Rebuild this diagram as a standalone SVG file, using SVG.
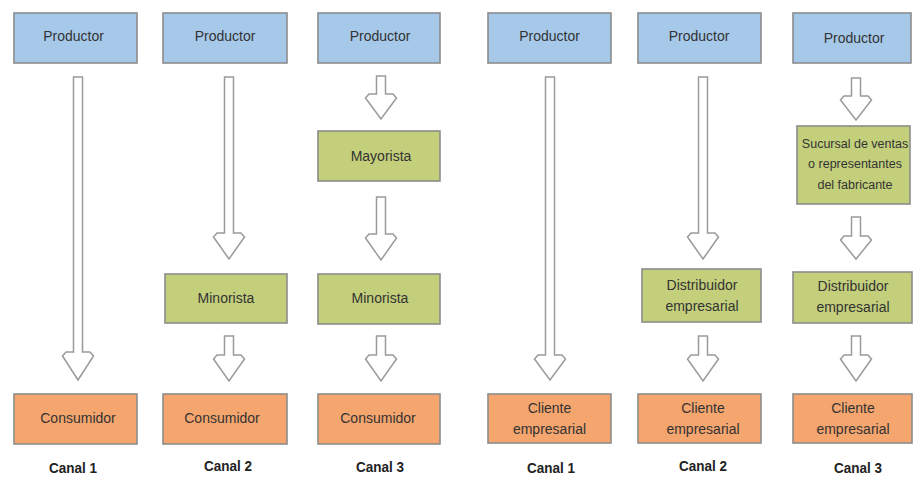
<svg xmlns="http://www.w3.org/2000/svg" width="914" height="477" viewBox="0 0 914 477">
<style>
.box{stroke:#8c8c8c;stroke-width:1.6}
.b{fill:#a6c9ea}
.g{fill:#c3cf7b}
.o{fill:#f5a56e}
.t{font-family:"Liberation Sans",Arial,sans-serif;font-size:14px;fill:#333333;text-anchor:middle}
.s{font-size:12.5px}
.c{font-family:"Liberation Sans",Arial,sans-serif;font-size:15px;font-weight:bold;fill:#222222;text-anchor:middle}
.a{fill:#ffffff;stroke:#9a9a9a;stroke-width:1.5;stroke-linejoin:miter}
</style>
<rect width="914" height="477" fill="#ffffff"/>
<g id="connectors">
<path class="a" d="M73.5 77 H82.5 V352 H90 L93.5 356 L78 380 L62.5 356 L66 352 H73.5 Z"/>
<path class="a" d="M224.5 77 H233.5 V233 H241 L244.5 237 L229 259 L213.5 237 L217 233 H224.5 Z"/>
<path class="a" d="M224.5 336 H233.5 V355 H241 L244.5 359 L229 381 L213.5 359 L217 355 H224.5 Z"/>
<path class="a" d="M376.5 76 H385.5 V94 H393 L396.5 98 L381 119 L365.5 98 L369 94 H376.5 Z"/>
<path class="a" d="M376.5 197 H385.5 V234 H393 L396.5 238 L381 260 L365.5 238 L369 234 H376.5 Z"/>
<path class="a" d="M376.5 336 H385.5 V355 H393 L396.5 359 L381 381 L365.5 359 L369 355 H376.5 Z"/>
<path class="a" d="M545.5 77 H554.5 V355 H562 L565.5 359 L550 380 L534.5 359 L538 355 H545.5 Z"/>
<path class="a" d="M698.5 77 H707.5 V233 H715 L718.5 237 L703 259 L687.5 237 L691 233 H698.5 Z"/>
<path class="a" d="M698.5 336 H707.5 V355 H715 L718.5 359 L703 381 L687.5 359 L691 355 H698.5 Z"/>
<path class="a" d="M851.5 78 H860.5 V96 H868 L871.5 100 L856 120 L840.5 100 L844 96 H851.5 Z"/>
<path class="a" d="M851.5 217 H860.5 V236 H868 L871.5 240 L856 259 L840.5 240 L844 236 H851.5 Z"/>
<path class="a" d="M851.5 336 H860.5 V355 H868 L871.5 359 L856 381 L840.5 359 L844 355 H851.5 Z"/>
</g>
<g id="c1-productor"><rect class="box b" x="14" y="13" width="123" height="50"/><text class="t" x="73.5" y="41">Productor</text></g>
<g id="c1-consumidor"><rect class="box o" x="14" y="394" width="123" height="50"/><text class="t" x="78" y="423">Consumidor</text></g>
<g id="c2-productor"><rect class="box b" x="163" y="13" width="124" height="50"/><text class="t" x="225" y="41">Productor</text></g>
<g id="c2-minorista"><rect class="box g" x="165" y="274" width="122" height="49"/><text class="t" x="226" y="303">Minorista</text></g>
<g id="c2-consumidor"><rect class="box o" x="163" y="394" width="124" height="50"/><text class="t" x="222" y="423">Consumidor</text></g>
<g id="c3-productor"><rect class="box b" x="318" y="13" width="122" height="50"/><text class="t" x="380" y="41">Productor</text></g>
<g id="c3-mayorista"><rect class="box g" x="318" y="131" width="122" height="50"/><text class="t" x="381" y="161">Mayorista</text></g>
<g id="c3-minorista"><rect class="box g" x="318" y="274" width="122" height="50"/><text class="t" x="380" y="303">Minorista</text></g>
<g id="c3-consumidor"><rect class="box o" x="318" y="394" width="122" height="50"/><text class="t" x="378" y="423">Consumidor</text></g>
<g id="b1-productor"><rect class="box b" x="488" y="13" width="123" height="50"/><text class="t" x="549.5" y="41">Productor</text></g>
<g id="b1-cliente"><rect class="box o" x="488" y="394" width="123" height="49"/><text class="t" x="549.5" y="413">Cliente</text><text class="t" x="549.5" y="434">empresarial</text></g>
<g id="b2-productor"><rect class="box b" x="638" y="13" width="123" height="50"/><text class="t" x="699" y="41">Productor</text></g>
<g id="b2-distribuidor"><rect class="box g" x="642" y="269" width="119" height="53"/><text class="t" x="702" y="290">Distribuidor</text><text class="t" x="702" y="311">empresarial</text></g>
<g id="b2-cliente"><rect class="box o" x="638" y="394" width="123" height="49"/><text class="t" x="703" y="413">Cliente</text><text class="t" x="703" y="434">empresarial</text></g>
<g id="b3-productor"><rect class="box b" x="793" y="13" width="118" height="50"/><text class="t" x="854" y="43">Productor</text></g>
<g id="b3-sucursal"><rect class="box g" x="797" y="126" width="113" height="78"/><text class="t s" x="855" y="148">Sucursal de ventas</text><text class="t s" x="855" y="168">o representantes</text><text class="t s" x="855" y="189">del fabricante</text></g>
<g id="b3-distribuidor"><rect class="box g" x="793" y="272" width="119" height="51"/><text class="t" x="853" y="291">Distribuidor</text><text class="t" x="853" y="312">empresarial</text></g>
<g id="b3-cliente"><rect class="box o" x="793" y="394" width="119" height="49"/><text class="t" x="853" y="413">Cliente</text><text class="t" x="853" y="434">empresarial</text></g>
<g id="labels">
<text class="c" x="73" y="473" textLength="48" lengthAdjust="spacingAndGlyphs">Canal 1</text>
<text class="c" x="228" y="471" textLength="48" lengthAdjust="spacingAndGlyphs">Canal 2</text>
<text class="c" x="380" y="472" textLength="48" lengthAdjust="spacingAndGlyphs">Canal 3</text>
<text class="c" x="551" y="473" textLength="48" lengthAdjust="spacingAndGlyphs">Canal 1</text>
<text class="c" x="703" y="471" textLength="48" lengthAdjust="spacingAndGlyphs">Canal 2</text>
<text class="c" x="858" y="473" textLength="48" lengthAdjust="spacingAndGlyphs">Canal 3</text>
</g>
</svg>
